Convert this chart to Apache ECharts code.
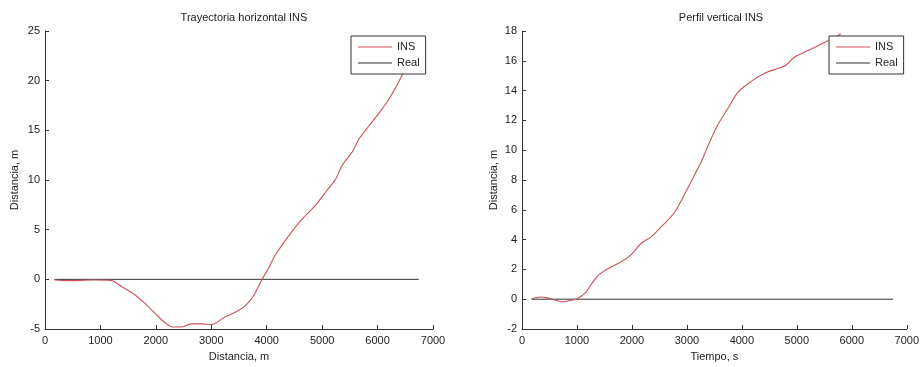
<!DOCTYPE html>
<html>
<head>
<meta charset="utf-8">
<script src="https://cdn.jsdelivr.net/npm/echarts@6/dist/echarts.min.js"></script>
<style>html,body{margin:0;padding:0;background:#fff}#c{width:922px;height:367px}</style>
</head>
<body>
<div id="c"></div>
<script>
// Left panel: horizontal trajectory
const horizX = [170, 394, 880, 1180, 1424, 1606, 1788, 2000, 2150, 2303, 2454, 2636, 2818, 3000, 3242, 3424, 3606, 3758, 3909, 4030, 4150, 4394, 4636, 4879, 5060, 5242, 5364, 5545, 5667, 5848, 6030, 6212, 6364, 6455, 6600, 6745];
const horizY = [-0.07, -0.13, -0.07, -0.1, -0.88, -1.5, -2.35, -3.5, -4.3, -4.8, -4.8, -4.48, -4.48, -4.55, -3.8, -3.33, -2.7, -1.7, -0.07, 1.08, 2.4, 4.35, 6.05, 7.45, 8.76, 10.07, 11.5, 12.84, 14.15, 15.46, 16.76, 18.2, 19.7, 20.7, 22.2, 23.6];
const horizRealX = [170, 6745];
const horizRealY = [0, 0];

// Right panel: vertical profile
const vertX = [175, 345, 467, 588, 739, 891, 1012, 1164, 1285, 1406, 1588, 1800, 1982, 2164, 2345, 2527, 2770, 2921, 3073, 3255, 3406, 3558, 3739, 3921, 4164, 4406, 4648, 4800, 4952, 5255, 5558, 5800];
const vertY = [0.02, 0.15, 0.09, -0.04, -0.17, -0.07, 0.04, 0.48, 1.13, 1.67, 2.1, 2.5, 2.98, 3.74, 4.17, 4.83, 5.8, 6.78, 7.87, 9.17, 10.48, 11.67, 12.76, 13.85, 14.6, 15.15, 15.48, 15.7, 16.24, 16.78, 17.33, 17.8];
const vertRealX = [175, 6750];
const vertRealY = [0, 0];

const titles = ['Trayectoria horizontal INS', 'Perfil vertical INS'];
const xNames = ['Distancia, m', 'Tiempo, s'];
const yName = 'Distancia, m';
const seriesNames = ['INS', 'Real'];

const zip = (a, b) => a.map((v, i) => [v, b[i]]);
const FONT = 'Liberation Sans, Arial, sans-serif';
const AX = '#333';
const RED = '#cc5259';

function xAxis(idx, name) {
  return {
    type: 'value', gridIndex: idx, min: 0, max: 7000, interval: 1000,
    name: name, nameLocation: 'middle', nameGap: 22,
    nameTextStyle: { fontFamily: FONT, fontSize: 11, color: '#222' },
    axisLine: { show: true, onZero: false, lineStyle: { color: AX, width: 1 } },
    axisTick: { inside: true, length: 4, lineStyle: { color: AX } },
    axisLabel: { fontFamily: FONT, fontSize: 11, color: '#222', margin: 6, formatter: v => String(v) },
    splitLine: { show: false }
  };
}
function yAxis(idx, min, max, interval, gap) {
  return {
    type: 'value', gridIndex: idx, min: min, max: max, interval: interval,
    name: yName, nameLocation: 'middle', nameGap: gap, nameRotate: 90,
    nameTextStyle: { fontFamily: FONT, fontSize: 11, color: '#222' },
    axisLine: { show: true, onZero: false, lineStyle: { color: AX, width: 1 } },
    axisTick: { inside: true, length: 4, lineStyle: { color: AX } },
    axisLabel: { fontFamily: FONT, fontSize: 11, color: '#222', margin: 5, formatter: v => String(v) },
    splitLine: { show: false }
  };
}
function legend(left) {
  return {
    left: left, top: 36, orient: 'vertical',
    data: seriesNames,
    icon: 'rect', itemWidth: 34, itemHeight: 1, itemGap: 4,
    padding: [5, 6, 5, 7],
    backgroundColor: '#fff', borderColor: '#333', borderWidth: 1,
    textStyle: { fontFamily: FONT, fontSize: 11, color: '#222', lineHeight: 12 },
    selectedMode: false
  };
}

const chart = echarts.init(document.getElementById('c'), null, { renderer: 'canvas' });
chart.setOption({
  animation: false,
  backgroundColor: '#fff',
  title: [
    { text: titles[0], left: 239, top: 7, textAlign: 'center', textStyle: { fontFamily: FONT, fontSize: 11, fontWeight: 'normal', color: '#222' } },
    { text: titles[1], left: 716, top: 7, textAlign: 'center', textStyle: { fontFamily: FONT, fontSize: 11, fontWeight: 'normal', color: '#222' } }
  ],
  grid: [
    { left: 45, right: 489, top: 31, bottom: 32 },
    { left: 522, right: 12, top: 31, bottom: 32 }
  ],
  xAxis: [xAxis(0, xNames[0]), xAxis(1, xNames[1])],
  yAxis: [yAxis(0, -5, 25, 5, 25), yAxis(1, -2, 18, 2, 23)],
  legend: [legend(351), legend(829)],
  series: [
    { name: 'INS', type: 'line', xAxisIndex: 0, yAxisIndex: 0, data: zip(horizX, horizY), symbol: 'none', smooth: 0.3, color: RED, lineStyle: { color: RED, width: 1.1 }, z: 2 },
    { name: 'Real', type: 'line', xAxisIndex: 0, yAxisIndex: 0, data: zip(horizRealX, horizRealY), symbol: 'none', color: AX, lineStyle: { color: AX, width: 1 }, z: 1 },
    { name: 'INS', type: 'line', xAxisIndex: 1, yAxisIndex: 1, data: zip(vertX, vertY), symbol: 'none', smooth: 0.3, color: RED, lineStyle: { color: RED, width: 1.1 }, z: 2 },
    { name: 'Real', type: 'line', xAxisIndex: 1, yAxisIndex: 1, data: zip(vertRealX, vertRealY), symbol: 'none', color: AX, lineStyle: { color: AX, width: 1 }, z: 1 }
  ]
});
</script>
</body>
</html>
